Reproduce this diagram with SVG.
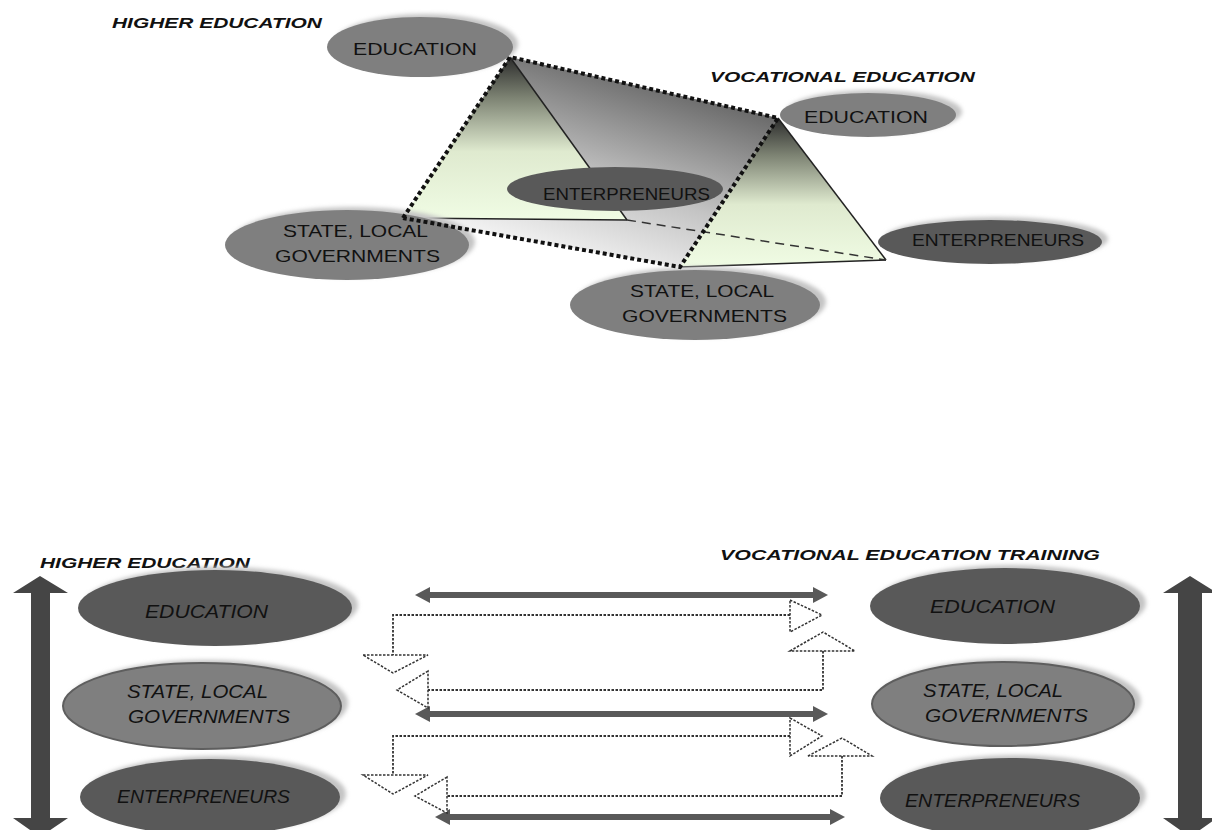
<svg xmlns="http://www.w3.org/2000/svg" width="1212" height="830" viewBox="0 0 1212 830">
<defs>
<style>
.lbl{font-family:"Liberation Sans",Arial,sans-serif;font-size:14px;font-weight:bold;font-style:italic;fill:#111}
.t{font-family:"Liberation Sans",Arial,sans-serif;font-size:17px;fill:#111}
.ti{font-family:"Liberation Sans",Arial,sans-serif;font-size:18px;font-style:italic;fill:#111}
.mid{fill:#7f7f7f}
.dark{fill:#595959}
.midb{fill:#7f7f7f;stroke:#5e5e5e;stroke-width:2}
.sh{fill:#c4c4c4;filter:url(#blur)}
.dots{fill:none;stroke:#111;stroke-width:4;stroke-dasharray:4 3}
.dash{fill:none;stroke:#333;stroke-width:1.5;stroke-dasharray:9 6}
.edge{stroke:#222;stroke-width:1.5}
.dl{fill:none;stroke:#333;stroke-width:1.8;stroke-dasharray:2.5 1.5}
.dh{fill:#fff;stroke:#333;stroke-width:1.5;stroke-dasharray:2.5 1.5}
.sa{fill:#595959}
.va{fill:#454545}
</style>
<filter id="blur" x="-10%" y="-20%" width="120%" height="140%"><feGaussianBlur stdDeviation="2"/></filter>
<linearGradient id="plane" gradientUnits="userSpaceOnUse" x1="620" y1="70" x2="560" y2="265">
<stop offset="0" stop-color="#6a6a6a"/><stop offset="0.55" stop-color="#c4c4c4"/><stop offset="1" stop-color="#f7f7f7"/>
</linearGradient>
<linearGradient id="tri1" gradientUnits="userSpaceOnUse" x1="0" y1="57" x2="0" y2="220">
<stop offset="0" stop-color="#2c2c2c"/><stop offset="0.25" stop-color="#7d8373"/><stop offset="0.58" stop-color="#dfeacf"/><stop offset="1" stop-color="#f0fce4"/>
</linearGradient>
<linearGradient id="tri2" gradientUnits="userSpaceOnUse" x1="0" y1="118" x2="0" y2="267">
<stop offset="0" stop-color="#2c2c2c"/><stop offset="0.25" stop-color="#7d8373"/><stop offset="0.58" stop-color="#dfeacf"/><stop offset="1" stop-color="#f0fce4"/>
</linearGradient>
</defs>
<rect width="1212" height="830" fill="#fff"/>

<g id="labels">
<text class="lbl" x="112" y="28" textLength="210" lengthAdjust="spacingAndGlyphs">HIGHER EDUCATION</text>
<text class="lbl" x="710" y="82" textLength="265" lengthAdjust="spacingAndGlyphs">VOCATIONAL EDUCATION</text>
<text class="lbl" x="40" y="568" textLength="210" lengthAdjust="spacingAndGlyphs">HIGHER EDUCATION</text>
<text class="lbl" x="720" y="560" textLength="380" lengthAdjust="spacingAndGlyphs">VOCATIONAL EDUCATION TRAINING</text>
</g>

<g id="prism">
<polygon points="510,57 778,118 680,267 403,218" fill="url(#plane)"/>
<polygon points="510,57 627,220 403,218" fill="url(#tri1)"/>
<line class="edge" x1="510" y1="57" x2="627" y2="220"/>
<line class="edge" x1="403" y1="218" x2="627" y2="220"/>
<polygon points="778,118 886,260 680,267" fill="url(#tri2)"/>
<line class="edge" x1="778" y1="118" x2="886" y2="260"/>
<line class="edge" x1="680" y1="267" x2="886" y2="260"/>
<line class="dash" x1="627" y1="220" x2="886" y2="260"/>
</g>

<g id="top-he-education">
<ellipse class="sh" cx="426" cy="44" rx="92" ry="30"/>
<ellipse class="mid" cx="420" cy="47" rx="93" ry="30"/>
<text class="t" x="353" y="55" textLength="124" lengthAdjust="spacingAndGlyphs">EDUCATION</text>
</g>
<g id="top-he-state">
<ellipse class="sh" cx="353" cy="242" rx="122" ry="35"/>
<ellipse class="mid" cx="347" cy="245" rx="122" ry="35"/>
<text class="t" x="283" y="237" textLength="145" lengthAdjust="spacingAndGlyphs">STATE, LOCAL</text>
<text class="t" x="275" y="262" textLength="165" lengthAdjust="spacingAndGlyphs">GOVERNMENTS</text>
</g>
<g id="top-he-enterpreneurs">
<ellipse class="dark" cx="615" cy="189" rx="108" ry="22"/>
<text class="t" x="543" y="200" textLength="167" lengthAdjust="spacingAndGlyphs">ENTERPRENEURS</text>
</g>
<g id="top-ve-education">
<ellipse class="sh" cx="874" cy="112" rx="88" ry="22"/>
<ellipse class="mid" cx="868" cy="115" rx="88" ry="22"/>
<text class="t" x="804" y="123" textLength="124" lengthAdjust="spacingAndGlyphs">EDUCATION</text>
</g>
<g id="top-ve-enterpreneurs">
<ellipse class="sh" cx="996" cy="239" rx="112" ry="22"/>
<ellipse class="dark" cx="990" cy="242" rx="112" ry="22"/>
<text class="t" x="912" y="246" textLength="172" lengthAdjust="spacingAndGlyphs">ENTERPRENEURS</text>
</g>
<g id="top-ve-state">
<ellipse class="sh" cx="701" cy="302" rx="125" ry="35"/>
<ellipse class="mid" cx="695" cy="305" rx="125" ry="35"/>
<text class="t" x="630" y="297" textLength="144" lengthAdjust="spacingAndGlyphs">STATE, LOCAL</text>
<text class="t" x="622" y="322" textLength="165" lengthAdjust="spacingAndGlyphs">GOVERNMENTS</text>
</g>

<g id="prism-edges">
<polyline class="dots" points="403,218 510,57 778,118 680,267 403,218"/>
</g>

<g id="bottom-he-education">
<ellipse class="sh" cx="221" cy="605" rx="137" ry="38"/>
<ellipse class="dark" cx="215" cy="608" rx="137" ry="38"/>
<text class="ti" x="145" y="618" textLength="123" lengthAdjust="spacingAndGlyphs">EDUCATION</text>
</g>
<g id="bottom-he-state">
<ellipse class="sh" cx="208" cy="703" rx="140" ry="43"/>
<ellipse class="midb" cx="202" cy="706" rx="139" ry="43"/>
<text class="ti" x="127" y="698" textLength="141" lengthAdjust="spacingAndGlyphs">STATE, LOCAL</text>
<text class="ti" x="128" y="723" textLength="162" lengthAdjust="spacingAndGlyphs">GOVERNMENTS</text>
</g>
<g id="bottom-he-enterpreneurs">
<ellipse class="sh" cx="216" cy="794" rx="130" ry="38"/>
<ellipse class="dark" cx="210" cy="797" rx="130" ry="38"/>
<text class="ti" x="117" y="803" textLength="173" lengthAdjust="spacingAndGlyphs">ENTERPRENEURS</text>
</g>
<g id="bottom-ve-education">
<ellipse class="sh" cx="1011" cy="603" rx="135" ry="38"/>
<ellipse class="dark" cx="1005" cy="606" rx="135" ry="38"/>
<text class="ti" x="930" y="613" textLength="125" lengthAdjust="spacingAndGlyphs">EDUCATION</text>
</g>
<g id="bottom-ve-state">
<ellipse class="sh" cx="1009" cy="701" rx="132" ry="42"/>
<ellipse class="midb" cx="1003" cy="704" rx="131" ry="42"/>
<text class="ti" x="923" y="697" textLength="140" lengthAdjust="spacingAndGlyphs">STATE, LOCAL</text>
<text class="ti" x="925" y="722" textLength="163" lengthAdjust="spacingAndGlyphs">GOVERNMENTS</text>
</g>
<g id="bottom-ve-enterpreneurs">
<ellipse class="sh" cx="1016" cy="795" rx="130" ry="40"/>
<ellipse class="dark" cx="1010" cy="798" rx="130" ry="40"/>
<text class="ti" x="905" y="807" textLength="175" lengthAdjust="spacingAndGlyphs">ENTERPRENEURS</text>
</g>

<g id="connectors">
<polygon class="va" points="40,576 68,593 50,593 50,818 68,818 40,837 13,818 31,818 31,593 13,593"/>
<polygon class="va" points="1190,576 1217,593 1202,593 1202,818 1217,818 1190,837 1163,818 1178,818 1178,593 1163,593"/>

<polygon class="sa" points="415,595 430,587 430,592 813,592 813,587 828,595 813,603 813,598 430,598 430,603"/>
<polygon class="sa" points="415,714 430,706 430,711 813,711 813,706 828,714 813,722 813,717 430,717 430,722"/>
<polygon class="sa" points="435,817 450,809 450,814 830,814 830,809 845,817 830,825 830,820 450,820 450,825"/>

<polyline class="dl" points="790,615 393,615 393,655"/>
<polygon class="dh" points="790,600 822,615 790,632"/>
<polygon class="dh" points="363,655 428,655 393,673"/>

<polyline class="dl" points="823,651 823,690 428,690"/>
<polygon class="dh" points="790,651 823,632 855,651"/>
<polygon class="dh" points="428,671 397,690 428,708"/>

<polyline class="dl" points="790,736 393,736 393,775"/>
<polygon class="dh" points="790,718 822,736 790,756"/>
<polygon class="dh" points="363,775 428,775 393,794"/>

<polyline class="dl" points="842,756 842,796 447,796"/>
<polygon class="dh" points="808,756 842,738 872,756"/>
<polygon class="dh" points="447,777 415,796 447,813"/>
</g>
</svg>
